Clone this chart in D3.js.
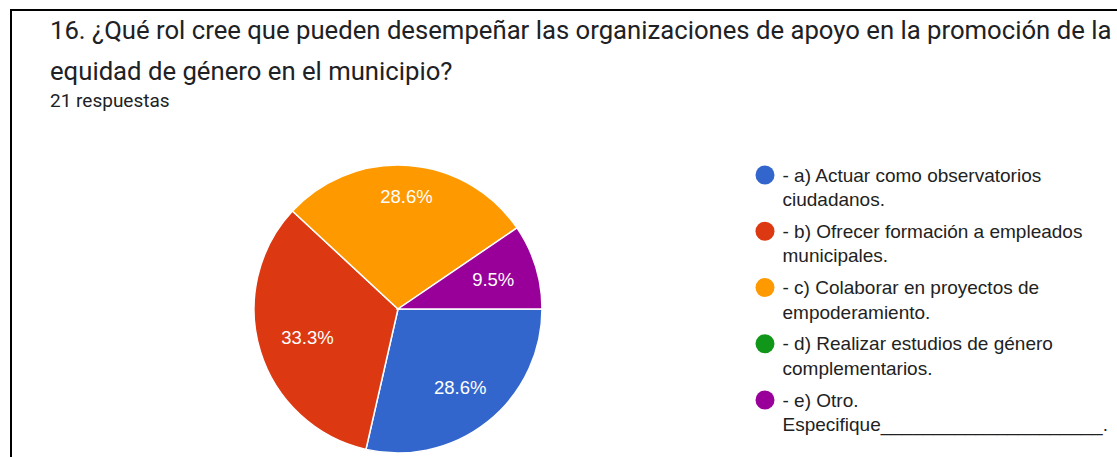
<!DOCTYPE html>
<html>
<head>
  <meta charset="utf-8">
  <title>Pregunta 16</title>
  <script src="https://d3js.org/d3.v7.min.js"></script>
  <style>
    html, body { margin: 0; padding: 0; background: #fff; }
  </style>
</head>
<body>

<script>
const categories = [
  ['- a) Actuar como observatorios', 'ciudadanos.'],
  ['- b) Ofrecer formación a empleados', 'municipales.'],
  ['- c) Colaborar en proyectos de', 'empoderamiento.'],
  ['- d) Realizar estudios de género', 'complementarios.'],
  ['- e) Otro.', 'Especifique_____________________.']
];
const counts = [6, 7, 6, 0, 2];
const colors = ['#3366cc', '#dc3912', '#ff9900', '#109618', '#990099'];

const width = 1117;
const height = 457;

const svg = d3.select('body')
  .append('svg')
  .attr('width', width)
  .attr('height', height);

// frame (top and left edges visible)
svg.append('path')
  .attr('d', `M11,${height} V10 H${width}`)
  .attr('fill', 'none')
  .attr('stroke', '#000')
  .attr('stroke-width', 2);

svg.append('text')
  .attr('x', 50).attr('y', 39)
  .attr('font-family', 'Roboto')
  .attr('font-size', 25.7)
  .attr('fill', '#202124')
  .text('16. ¿Qué rol cree que pueden desempeñar las organizaciones de apoyo en la promoción de la');

svg.append('text')
  .attr('x', 50).attr('y', 80)
  .attr('font-family', 'Roboto')
  .attr('font-size', 25.7)
  .attr('fill', '#202124')
  .text('equidad de género en el municipio?');

svg.append('text')
  .attr('x', 50).attr('y', 107)
  .attr('font-family', 'Roboto')
  .attr('font-size', 19)
  .attr('fill', '#202124')
  .text('21 respuestas');

// pie
const cx = 398, cy = 309, r = 144;
const total = d3.sum(counts);
const pie = d3.pie().sort(null)
  .startAngle(Math.PI / 2)
  .endAngle(Math.PI / 2 + 2 * Math.PI);
const arcs = pie(counts).filter(d => d.value > 0);
const arc = d3.arc().innerRadius(0).outerRadius(r);
const fmt = d3.format('.1%');

const g = svg.append('g').attr('transform', `translate(${cx},${cy})`);

g.selectAll('path.slice')
  .data(arcs)
  .enter().append('path')
    .attr('class', 'slice')
    .attr('d', arc)
    .attr('fill', d => colors[d.index])
    .attr('stroke', '#fff')
    .attr('stroke-width', 1.5);

const labels = g.selectAll('text.pct')
  .data(arcs)
  .enter().append('text')
    .attr('class', 'pct')
    .attr('text-anchor', 'middle')
    .attr('dy', '0.36em')
    .attr('font-family', 'Liberation Sans, Arial')
    .attr('font-size', 18.5)
    .attr('fill', '#fff')
    .text(d => fmt(d.value / total));

// keep the outer edge of each label box at a fixed distance from the centre
labels.attr('transform', function(d) {
  const w = this.getComputedTextLength();
  const h = 15;
  const a = (d.startAngle + d.endAngle) / 2;
  const s = Math.sin(a), c = Math.cos(a);
  const rr = 122 - (w / 2 * Math.abs(s) + h / 2 * Math.abs(c));
  return `translate(${rr * s},${-rr * c})`;
});

// legend
const legend = svg.append('g').attr('transform', 'translate(765,175)');
const item = legend.selectAll('g.item')
  .data(categories)
  .enter().append('g')
    .attr('class', 'item')
    .attr('transform', (d, i) => `translate(0,${i * 56.25})`);

item.append('circle')
  .attr('r', 9.5)
  .attr('fill', (d, i) => colors[i]);

item.selectAll('text')
  .data(d => d)
  .enter().append('text')
    .attr('x', 17.5)
    .attr('y', (d, j) => 6.5 + j * 24.5)
    .attr('font-family', 'Liberation Sans, Arial')
    .attr('font-size', 19)
    .attr('fill', '#222')
    .text(d => d);
</script>

</body>
</html>
